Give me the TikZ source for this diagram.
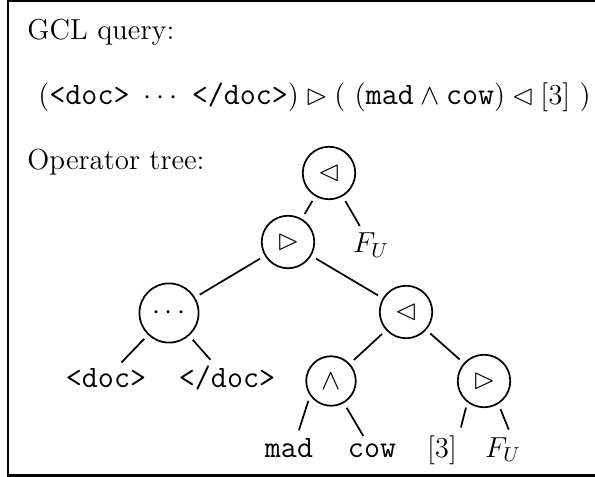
\RequirePackage{fix-cm}
\documentclass[tikz,border=0pt]{standalone}
\usepackage{amssymb}
\usepackage{tikz}

\newcommand{\tok}[1]{\mbox{\fontsize{14.4}{16}\selectfont\ttfamily #1}}

\begin{document}
\begin{tikzpicture}[x=0.463pt, y=-0.463pt,
		every node/.style={font=\fontsize{13.4}{16}\selectfont},
		op/.style={circle, draw, thick, inner sep=4pt},
		leaf/.style={inner sep=1pt},
		branch/.style={thick, shorten >=2.5pt, shorten <=2.5pt}]
		\useasboundingbox (0,0) rectangle (595,477);
		\draw[line width=1pt] (595,1) -- (8,1) -- (8,475.5) -- (595,475.5);
		\node[anchor=base west, inner sep=0] (title) at (27,40) {GCL query:};
		\node[anchor=base west, inner sep=0] (query) at (38,105)
			{$(\tok{<doc>}\ \cdots\ \tok{</doc>}) \rhd (\ (\tok{mad} \wedge \tok{cow}) \lhd [3]\ )$};
		\node[anchor=base west, inner sep=0] (treelabel) at (27,170) {Operator tree:};
		% operators
		\node[op] (root) at (329,173) {$\lhd$};
		\node[op] (contain) at (288,242) {$\rhd$};
		\node[op, minimum size=25pt] (dots) at (169,313) {$\cdots$};
		\node[op] (within) at (406,312) {$\lhd$};
		\node[op] (and) at (331,381) {$\wedge$};
		\node[op] (range) at (484,381) {$\rhd$};
		% leaves
		\node[leaf, anchor=base] (fuA) at (371,253) {$F_U$};
		\node[leaf, anchor=base] (open) at (106,388) {\tok{<doc>}};
		\node[leaf, anchor=base] (close) at (227,388) {\tok{</doc>}};
		\node[leaf, anchor=base] (mad) at (289,457) {\tok{mad}};
		\node[leaf, anchor=base] (cow) at (372,457) {\tok{cow}};
		\node[leaf, anchor=base] (three) at (442,457) {$[3]$};
		\node[leaf, anchor=base] (fuB) at (503,457) {$F_U$};
		% branches
		\draw[branch] (root) -- (contain);
		\draw[branch] (root) -- (fuA);
		\draw[branch] (contain) -- (dots);
		\draw[branch] (contain) -- (within);
		\draw[branch] (dots) -- (open);
		\draw[branch] (dots) -- (close);
		\draw[branch] (within) -- (and);
		\draw[branch] (within) -- (range);
		\draw[branch] (and.215) -- (mad.56);
		\draw[branch] (and) -- (cow.122);
		\draw[branch] (range.232) -- (three.north east);
		\draw[branch] (range.302) -- (fuB.62);
	\end{tikzpicture}
\end{document}
